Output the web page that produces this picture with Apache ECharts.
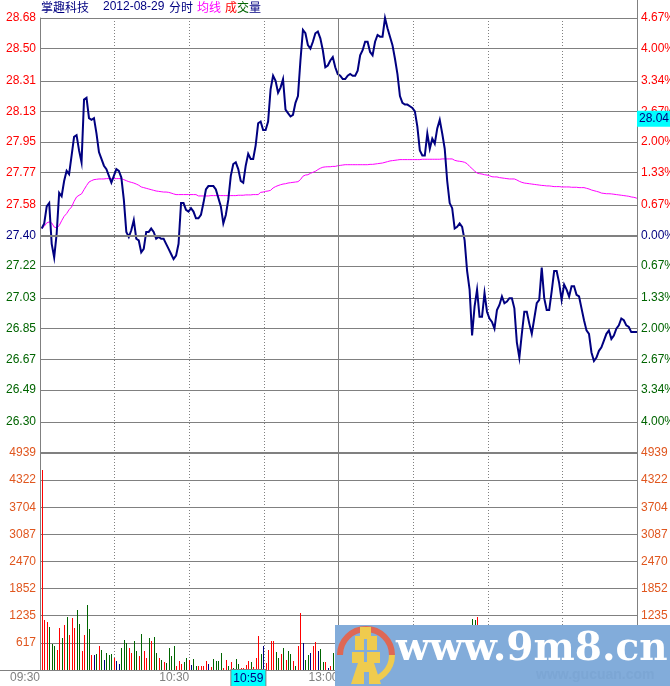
<!DOCTYPE html>
<html><head><meta charset="utf-8">
<style>html,body{margin:0;padding:0;background:#fff}#c{width:670px;height:686px}</style>
<script src="https://cdn.jsdelivr.net/npm/echarts@6/dist/echarts.min.js"></script>
</head><body><div id="c"></div>
<script>
const priceTicks=[28.68,28.50,28.31,28.13,27.95,27.77,27.58,27.40,27.22,27.03,26.85,26.67,26.49,26.30];
const percentLabels=['4.67%','4.00%','3.34%','2.67%','2.00%','1.33%','0.67%','0.00%','0.67%','1.33%','2.00%','2.67%','3.34%','4.00%'];
const volumeTicks=[4939,4322,3704,3087,2470,1852,1235,617];
const timeLabels={0:'09:30',60:'10:30',120:'13:00',180:'14:00'};
const price=[27.44,27.47,27.57,27.59,27.35,27.27,27.41,27.65,27.63,27.72,27.78,27.76,27.87,27.98,27.99,27.90,27.83,28.20,28.21,28.09,
28.08,28.09,28.00,27.89,27.85,27.81,27.79,27.75,27.71,27.75,27.79,27.78,27.74,27.61,27.42,27.39,27.43,27.49,27.38,27.37,
27.30,27.32,27.42,27.42,27.44,27.42,27.38,27.39,27.38,27.38,27.35,27.32,27.29,27.26,27.28,27.35,27.59,27.59,27.55,27.54,
27.56,27.54,27.50,27.50,27.52,27.59,27.67,27.69,27.69,27.69,27.67,27.62,27.57,27.47,27.52,27.61,27.75,27.82,27.83,27.79,
27.72,27.71,27.81,27.88,27.85,27.85,27.93,28.06,28.07,28.02,28.02,28.07,28.26,28.34,28.31,28.24,28.27,28.32,28.14,28.12,
28.10,28.11,28.18,28.22,28.43,28.61,28.59,28.52,28.50,28.54,28.59,28.60,28.56,28.49,28.39,28.40,28.43,28.45,28.39,28.35,
28.34,28.32,28.32,28.34,28.35,28.34,28.34,28.37,28.46,28.49,28.54,28.54,28.48,28.46,28.54,28.58,28.57,28.57,28.68,28.62,
28.57,28.52,28.44,28.35,28.22,28.18,28.17,28.17,28.16,28.15,28.13,28.04,27.90,27.87,27.87,28.00,27.91,27.97,27.94,28.03,
28.08,28.00,27.91,27.72,27.59,27.56,27.44,27.45,27.47,27.45,27.37,27.19,27.08,26.81,26.98,27.08,26.92,26.92,27.06,26.95,
26.91,26.89,26.85,26.96,26.99,27.04,27.00,27.01,27.03,27.03,26.97,26.77,26.68,26.82,26.95,26.95,26.88,26.82,26.91,27.00,
27.02,27.21,27.03,26.96,26.96,27.07,27.19,27.19,27.12,27.02,27.11,27.08,27.04,27.10,27.10,27.05,27.04,26.97,26.90,26.84,
26.82,26.71,26.66,26.68,26.72,26.74,26.78,26.82,26.84,26.79,26.81,26.85,26.87,26.91,26.90,26.87,26.86,26.83,26.83,26.83,26.83];
const average=[27.441,27.453,27.473,27.479,27.473,27.449,27.443,27.457,27.486,27.512,27.528,27.551,27.567,27.600,27.626,27.636,27.644,27.669,27.693,27.714,
27.722,27.728,27.730,27.732,27.732,27.732,27.734,27.734,27.734,27.734,27.734,27.734,27.734,27.728,27.722,27.716,27.712,27.708,27.702,27.695,
27.685,27.681,27.677,27.673,27.669,27.665,27.661,27.659,27.657,27.655,27.655,27.653,27.649,27.644,27.640,27.640,27.640,27.640,27.640,27.640,
27.640,27.640,27.640,27.632,27.632,27.632,27.632,27.632,27.634,27.634,27.634,27.634,27.634,27.634,27.634,27.634,27.634,27.634,27.634,27.636,
27.636,27.636,27.638,27.638,27.638,27.640,27.640,27.640,27.653,27.655,27.659,27.661,27.665,27.679,27.687,27.693,27.698,27.702,27.704,27.708,
27.710,27.712,27.714,27.716,27.728,27.748,27.755,27.757,27.765,27.771,27.777,27.787,27.795,27.801,27.803,27.804,27.804,27.806,27.806,27.810,
27.812,27.814,27.816,27.816,27.816,27.816,27.816,27.816,27.816,27.816,27.816,27.816,27.818,27.818,27.820,27.822,27.824,27.826,27.830,27.834,
27.838,27.840,27.842,27.844,27.846,27.846,27.846,27.846,27.846,27.846,27.846,27.846,27.846,27.848,27.848,27.848,27.848,27.848,27.848,27.848,
27.848,27.850,27.850,27.850,27.850,27.850,27.842,27.838,27.836,27.834,27.830,27.822,27.806,27.793,27.779,27.767,27.763,27.761,27.757,27.755,
27.751,27.745,27.744,27.744,27.740,27.738,27.736,27.734,27.732,27.732,27.732,27.726,27.718,27.712,27.708,27.706,27.704,27.702,27.700,27.698,
27.696,27.694,27.693,27.691,27.691,27.689,27.687,27.687,27.687,27.685,27.685,27.685,27.685,27.683,27.683,27.683,27.681,27.681,27.681,27.677,
27.673,27.667,27.663,27.659,27.655,27.649,27.647,27.645,27.645,27.644,27.642,27.640,27.638,27.636,27.634,27.632,27.630,27.626,27.624,27.620,27.616];
const volumeMorning=[4550,1138,1093,987,592,546,455,964,729,1025,1207,797,1184,956,1366,1047,433,797,1480,934,
342,342,364,546,455,228,387,342,364,273,205,137,501,683,615,501,387,660,433,319,
820,433,273,729,660,751,387,273,228,182,159,501,319,546,91,205,137,182,273,228,
114,250,91,91,91,91,205,137,68,250,205,205,387,46,228,91,182,46,250,137,
46,46,114,205,182,68,273,774,364,546,159,455,660,660,410,273,364,501,228,433,
364,205,91,546,1298,615,228,342,387,546,638,433,478,182,182,46,91,387];
const volumeMorningSide=['r','r','r','g','g','g','r','r','g','r','g','r','r','r','g','g','r','r','g','g',
'r','b','g','r','g','b','g','g','g','r','b','b','g','g','g','r','r','g','g','r',
'g','r','r','g','r','g','g','r','g','r','g','g','g','g','r','r','r','g','g','r',
'b','g','g','r','r','r','r','b','r','g','g','g','g','r','r','g','r','g','g','g',
'r','r','r','r','g','r','r','r','g','b','r','r','r','r','g','g','r','g','r','g',
'g','r','g','r','r','b','g','g','b','r','r','b','g','g','r','b','r','g'];
const volumeVisibleLaterMinutes=[173,174,175];
const volumeVisibleLater=[1160,1138,1206];
const volumeVisibleLaterSide=['g','g','r'];
const sideColor={r:'#ff0000',g:'#006400',b:'#000080'};
const slotCentre=0.7;
const FONT='"Liberation Sans",Arial,sans-serif',CJK='"Noto Sans CJK SC",sans-serif';
const GRAY='#808080',NAVY='#000080',ORANGE='#e0561e',WM='#82acda',GOLD='#efcb4e';

const chart=echarts.init(document.getElementById('c'),null,{renderer:'canvas'});
const priceColor=v=>{const n=parseFloat(v);return n>27.4?'#ff0000':(n===27.4?NAVY:'#006400');};
const vLine={show:true,lineStyle:{color:GRAY,width:1,type:[1,2]}};
const hLine={show:true,lineStyle:{color:GRAY,width:1}};
const frame={show:true,lineStyle:{color:GRAY,width:1}};
const yCommon={min:26.118,max:28.68,gridIndex:0,type:'value',axisTick:{show:false,customValues:priceTicks}};
const volRows=volumeMorning.map((v,i)=>[i,v,volumeMorningSide[i]])
  .concat(volumeVisibleLater.map((v,i)=>[volumeVisibleLaterMinutes[i],v,volumeVisibleLaterSide[i]]));
const titleAt=(text,left,color,font)=>({text,left,top:0,padding:0,textStyle:{color,fontSize:12,fontWeight:'normal',fontFamily:font||CJK,lineHeight:14}});
const ln=(x1,y1,x2,y2)=>({type:'line',silent:true,z:3,shape:{x1,y1,x2,y2},style:{stroke:GRAY,lineWidth:1}});
const renderVolume=(params,api)=>{
  const top=api.coord([api.value(0),api.value(1)]);
  const base=api.coord([api.value(0),0]);
  const x=Math.round(top[0]);
  const y=Math.round(top[1]);
  return {type:'rect',shape:{x,y,width:1,height:Math.round(base[1])-y},style:{fill:sideColor[volRows[params.dataIndex][2]]}};
};

chart.setOption({
 animation:false,backgroundColor:'#fff',
 title:[titleAt('掌趣科技',41,NAVY),titleAt('2012-08-29',103,NAVY,FONT),titleAt('分时',169,NAVY),
  titleAt('均线',197,'#ff00ff'),titleAt('成',225,'#ff0000'),titleAt('交',237,'#006400'),titleAt('量',249,NAVY)],
 grid:[{left:40,right:33,top:18,height:435,outerBoundsMode:'none'},{left:40,right:33,top:453,height:217,outerBoundsMode:'none'}],
 xAxis:[
  {type:'value',gridIndex:0,min:0,max:240,interval:30,axisLine:{show:false},axisTick:{show:false},axisLabel:{show:false},splitLine:vLine},
  {type:'value',gridIndex:1,min:0,max:240,interval:30,axisLine:frame,axisTick:{show:false},splitLine:vLine,
   axisLabel:{color:GRAY,fontFamily:FONT,fontSize:12,align:'right',margin:2,showMaxLabel:false,formatter:v=>timeLabels[v]||''}}
 ],
 yAxis:[
  Object.assign({},yCommon,{position:'left',axisLine:frame,splitLine:hLine,
   axisLabel:{customValues:priceTicks,margin:4,fontFamily:FONT,fontSize:12,color:priceColor,formatter:v=>v.toFixed(2)}}),
  Object.assign({},yCommon,{position:'right',axisLine:{show:false},splitLine:{show:false},
   axisLabel:{customValues:priceTicks,margin:4,fontFamily:FONT,fontSize:12,color:priceColor,formatter:v=>percentLabels[priceTicks.indexOf(v)]}}),
  {type:'value',gridIndex:1,min:0,max:4939,position:'left',axisLine:frame,axisTick:{show:false,customValues:volumeTicks.concat([0])},splitLine:hLine,
   axisLabel:{customValues:volumeTicks,margin:4,fontFamily:FONT,fontSize:12,color:ORANGE,formatter:v=>String(v)}},
  {type:'value',gridIndex:1,min:0,max:4939,position:'right',axisLine:{show:false},axisTick:{show:false,customValues:volumeTicks},splitLine:{show:false},
   axisLabel:{customValues:volumeTicks,margin:4,fontFamily:FONT,fontSize:12,color:ORANGE,formatter:v=>String(v)}}
 ],
 series:[
  {name:'均线',type:'line',xAxisIndex:0,yAxisIndex:0,symbol:'none',silent:true,z:3,clip:false,
   lineStyle:{color:'#ff00ff',width:1},data:average.map((v,i)=>[Math.min(i+slotCentre,240),v]),
   markLine:{silent:true,symbol:'none',label:{show:false},animation:false,data:[
    {yAxis:27.40,lineStyle:{color:GRAY,width:2,type:'solid'}},
    {xAxis:120,lineStyle:{color:GRAY,width:1,type:'solid'}}]}},
  {name:'分时',type:'line',xAxisIndex:0,yAxisIndex:0,symbol:'none',silent:true,z:4,clip:false,
   lineStyle:{color:NAVY,width:2,join:'miter'},data:price.map((v,i)=>[Math.min(i+slotCentre,240),v]),
   markPoint:{silent:true,symbol:'circle',symbolSize:0,animation:false,data:[{coord:[240,28.04],
    label:{show:true,position:'right',distance:0,offset:[0,-8],formatter:'28.04',color:NAVY,fontFamily:FONT,fontSize:12,
     backgroundColor:'#00ffff',padding:[2,3,1,2],lineHeight:13}}]}},
  {name:'成交量',type:'custom',xAxisIndex:1,yAxisIndex:2,silent:true,clip:false,z:3,
   encode:{x:0,y:1},data:volRows.map(r=>[r[0]+slotCentre,r[1]]),renderItem:renderVolume,
   markLine:{silent:true,symbol:'none',label:{show:false},animation:false,data:[
    {yAxis:4939,lineStyle:{color:GRAY,width:2,type:'solid'}},
    {xAxis:120,lineStyle:{color:GRAY,width:1,type:'solid'}}]},
   markPoint:{silent:true,symbol:'circle',symbolSize:0,animation:false,data:[{coord:[89,0],
    label:{show:true,position:'bottom',distance:0,offset:[-13,0],formatter:'10:59',color:NAVY,fontFamily:FONT,fontSize:12,
     backgroundColor:'#00ffff',borderColor:GRAY,borderWidth:1,padding:[2,2,1,2],lineHeight:13}}]}}
 ],
 graphic:[
  ln(637.5,0,637.5,686),ln(0,670.5,40,670.5),
  {type:'rect',z:20,silent:true,shape:{x:335,y:625,width:335,height:61},style:{fill:WM}},
  {type:'text',z:21,silent:true,x:536,y:668,style:{text:'www.gucuan.com',fill:'#7ca6d4',font:'bold 14px "Liberation Sans"'}},
  {type:'text',z:22,silent:true,x:396,y:630,style:{text:'www.9m8.cn',fill:'#fff',font:'bold 39px "DejaVu Serif"'}},
  {type:'arc',z:21,silent:true,shape:{cx:366,cy:655,r:26,startAngle:Math.PI*1.0,endAngle:Math.PI*2.0},style:{stroke:'#de6855',fill:'none',lineWidth:6}},
  {type:'arc',z:21,silent:true,shape:{cx:366,cy:655,r:26,startAngle:0,endAngle:Math.PI*0.6},style:{stroke:GOLD,fill:'none',lineWidth:6}},
  {type:'rect',z:22,silent:true,shape:{x:360,y:627,width:11,height:9},style:{fill:GOLD}},
  {type:'rect',z:22,silent:true,shape:{x:355,y:636,width:22,height:14},style:{fill:GOLD}},
  {type:'rect',z:22,silent:true,shape:{x:352,y:652,width:28,height:11},style:{fill:GOLD}},
  {type:'polygon',z:22,silent:true,shape:{points:[[358,663],[374,663],[381,684],[351,684]]},style:{fill:GOLD}},
  {type:'rect',z:23,silent:true,shape:{x:364,y:639,width:3,height:23},style:{fill:WM}},
  {type:'rect',z:23,silent:true,shape:{x:364,y:672,width:5,height:12},style:{fill:WM}}
 ]
});
</script></body></html>
